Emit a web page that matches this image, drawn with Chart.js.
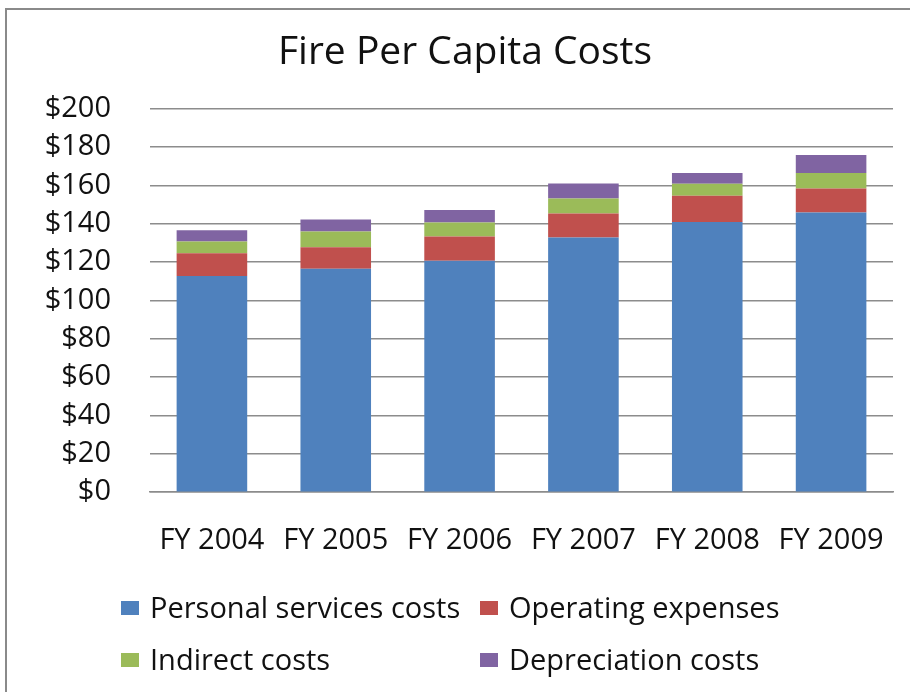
<!DOCTYPE html>
<html>
<head>
<meta charset="utf-8">
<script src="https://cdn.jsdelivr.net/npm/chart.js@4/dist/chart.umd.min.js"></script>
<style>
  body { margin: 0; background: #fff; }
  #wrap { position: relative; width: 910px; height: 692px; overflow: hidden; }
  #frame { position: absolute; left: 5px; top: 8px; width: 920px; height: 700px;
           border-left: 2px solid #8a8a8a; border-top: 2px solid #8a8a8a; }
  #chart { position: absolute; left: 0; top: 0; }
  .leg { position: absolute; font-family: "Open Sans", sans-serif; font-size: 29px; color: #111;
         line-height: 30px; white-space: nowrap; }
  .leg span.box { position: absolute; width: 18px; height: 14px; left: 0; top: 9px; }
  .leg span.txt { position: absolute; left: 29px; top: 0; }
</style>
</head>
<body>
<div id="wrap">
  <div id="frame"></div>
  <canvas id="chart" width="910" height="692"></canvas>
  <div id="legend"></div>
</div>
<script>
// chart values
const years = ['FY 2004', 'FY 2005', 'FY 2006', 'FY 2007', 'FY 2008', 'FY 2009'];
const personalServices = [112.8, 116.5, 120.8, 132.8, 140.9, 145.9];
const operatingExpenses = [11.9, 11.3, 12.6, 12.6, 13.7, 12.5];
const indirectCosts = [6.1, 8.2, 7.3, 7.8, 6.3, 8.1];
const depreciationCosts = [5.9, 6.2, 6.5, 7.8, 5.6, 9.4];
const yTicks = [0, 20, 40, 60, 80, 100, 120, 140, 160, 180, 200];

const seriesNames = ['Personal services costs', 'Operating expenses', 'Indirect costs', 'Depreciation costs'];
const seriesColors = ['#4F81BD', '#C0504D', '#9BBB59', '#8064A2'];
const seriesData = [personalServices, operatingExpenses, indirectCosts, depreciationCosts];

const font = '"Open Sans", sans-serif';

// the title sits a little right of the canvas centre in the original
const shiftTitle = {
  id: 'shiftTitle',
  afterLayout(chart) {
    if (chart.titleBlock) {
      chart.titleBlock.left = 30;
      chart.titleBlock.right = 900;
    }
  }
};

const chart = new Chart(document.getElementById('chart').getContext('2d'), {
  type: 'bar',
  data: {
    labels: years,
    datasets: seriesNames.map((name, i) => ({
      label: name,
      data: seriesData[i],
      backgroundColor: seriesColors[i],
      borderWidth: 0,
      categoryPercentage: 1,
      barPercentage: 0.57
    }))
  },
  options: {
    responsive: false,
    animation: false,
    layout: { padding: { left: 0, right: 17, top: 0, bottom: 103 } },
    plugins: {
      legend: { display: false },
      tooltip: { enabled: false },
      title: {
        display: true,
        text: 'Fire Per Capita Costs',
        color: '#111',
        font: { family: font, size: 39, weight: 'normal' },
        padding: { top: 29, bottom: 33 }
      }
    },
    scales: {
      x: {
        stacked: true,
        afterFit: s => { s.paddingLeft = 0; s.paddingRight = 0; },
        grid: { display: false, drawTicks: false },
        border: { display: true, color: '#8c8c8c', width: 1.5 },
        ticks: { color: '#111', font: { family: font, size: 29 }, padding: 31, maxRotation: 0 }
      },
      y: {
        stacked: true,
        min: 0,
        max: 200,
        afterFit: s => { s.width = 150; },
        afterBuildTicks: s => { s.ticks = yTicks.map(v => ({ value: v })); },
        grid: { color: '#8c8c8c', lineWidth: 1.5, drawTicks: false },
        border: { display: false },
        ticks: { color: '#111', font: { family: font, size: 29 }, padding: 39,
                 callback: v => '$' + v }
      }
    }
  },
  plugins: [shiftTitle]
});

// two-column legend like the original
const legend = document.getElementById('legend');
const legPos = [[121, 592], [480, 592], [121, 644], [480, 644]];
chart.data.datasets.forEach((ds, i) => {
  const d = document.createElement('div');
  d.className = 'leg';
  d.style.left = legPos[i][0] + 'px';
  d.style.top = legPos[i][1] + 'px';
  d.innerHTML = '<span class="box" style="background:' + ds.backgroundColor + '"></span>' +
                '<span class="txt">' + ds.label + '</span>';
  legend.appendChild(d);
});
</script>
</body>
</html>
